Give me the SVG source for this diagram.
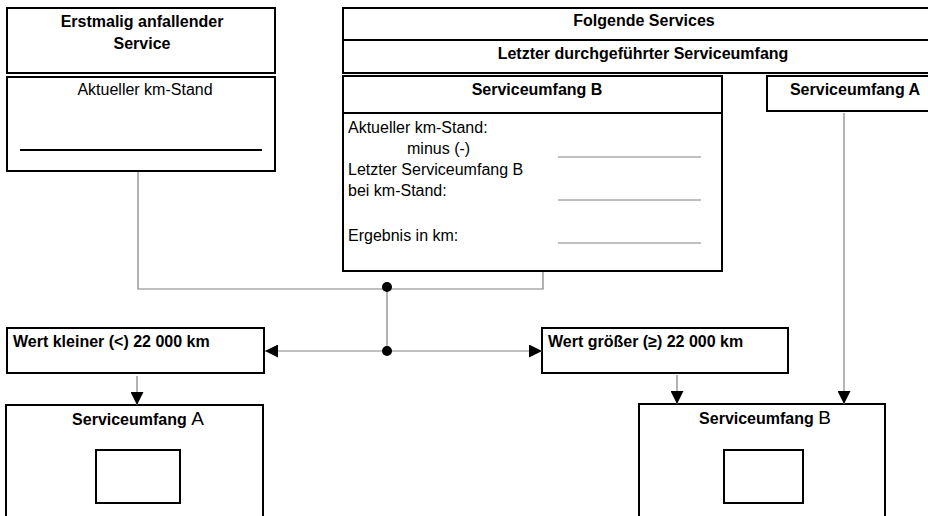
<svg xmlns="http://www.w3.org/2000/svg" width="928" height="516" viewBox="0 0 928 516">
<style>
.box{fill:#fff;stroke:#000;stroke-width:2}
.t{font-family:"Liberation Sans",Arial,sans-serif;font-size:16px;fill:#000}
.b{font-weight:bold}
.c{text-anchor:middle}
.con{fill:none;stroke:#808080;stroke-width:1.2}
.fl{stroke:#808080;stroke-width:1}
</style>
<defs>
<marker id="ah" viewBox="0 0 10 10" refX="10" refY="5" markerWidth="13" markerHeight="13" markerUnits="userSpaceOnUse" orient="auto">
<path d="M0,0 L10,5 L0,10 Z" fill="#000"/>
</marker>
</defs>
<rect width="928" height="516" fill="#fff"/>
<g id="erstmalig">
<rect class="box" x="7" y="8" width="268" height="65"/>
<text class="t b c" x="142" y="27" font-size="17">Erstmalig anfallender</text>
<text class="t b c" x="142" y="49" font-size="17">Service</text>
</g>
<g id="aktueller">
<rect class="box" x="7" y="77" width="268" height="94"/>
<text class="t c" x="145" y="95">Aktueller km-Stand</text>
<line x1="20" y1="150" x2="262" y2="150" stroke="#000" stroke-width="2"/>
</g>
<g id="folgende">
<rect class="box" x="343" y="8" width="600" height="32"/>
<text class="t b c" x="644" y="26">Folgende Services</text>
</g>
<g id="letzter">
<rect class="box" x="343" y="40" width="600" height="33"/>
<text class="t b c" x="643" y="59">Letzter durchgeführter Serviceumfang</text>
</g>
<g id="su-b-top">
<rect class="box" x="343" y="76" width="379" height="37"/>
<text class="t b c" x="537" y="95">Serviceumfang B</text>
<rect class="box" x="343" y="113" width="379" height="158"/>
<text class="t" x="348" y="133">Aktueller km-Stand:</text>
<text class="t" x="407" y="154">minus (-)</text>
<text class="t" x="348" y="175">Letzter Serviceumfang B</text>
<text class="t" x="348" y="196">bei km-Stand:</text>
<text class="t" x="348" y="241">Ergebnis in km:</text>
<line class="fl" x1="558" y1="157" x2="701" y2="157"/>
<line class="fl" x1="558" y1="200" x2="701" y2="200"/>
<line class="fl" x1="558" y1="243" x2="701" y2="243"/>
</g>
<g id="su-a-top">
<rect class="box" x="767" y="76" width="176" height="35"/>
<text class="t b c" x="855" y="95">Serviceumfang A</text>
</g>
<g id="kleiner">
<rect class="box" x="7" y="328" width="257" height="45"/>
<text class="t b" x="13" y="347">Wert kleiner (&lt;) 22 000 km</text>
</g>
<g id="groesser">
<rect class="box" x="542" y="328" width="246" height="45"/>
<text class="t b" x="548" y="347">Wert größer (≥) 22 000 km</text>
</g>
<g id="su-a-bottom">
<rect class="box" x="6" y="405" width="257" height="120"/>
<text class="t b c" x="138" y="425">Serviceumfang <tspan font-weight="normal" font-size="19">A</tspan></text>
<rect class="box" x="96" y="450" width="84" height="53"/>
</g>
<g id="su-b-bottom">
<rect class="box" x="639" y="404" width="246" height="120"/>
<text class="t b c" x="765" y="424">Serviceumfang <tspan font-weight="normal" font-size="19">B</tspan></text>
<rect class="box" x="724" y="450" width="79" height="53"/>
</g>
<g id="connectors">
<polyline class="con" points="138,172 138,289 543,289 543,272"/>
<line class="con" x1="387" y1="287" x2="387" y2="351"/>
<line class="con" x1="387" y1="351" x2="265" y2="351" marker-end="url(#ah)"/>
<line class="con" x1="387" y1="351" x2="542" y2="351" marker-end="url(#ah)"/>
<circle cx="387" cy="287" r="5" fill="#000"/>
<circle cx="387" cy="351" r="5" fill="#000"/>
<line class="con" x1="137" y1="376" x2="137" y2="405" marker-end="url(#ah)"/>
<line class="con" x1="677" y1="375" x2="677" y2="404" marker-end="url(#ah)"/>
<line class="con" x1="844" y1="113" x2="844" y2="404" marker-end="url(#ah)"/>
</g>
</svg>
